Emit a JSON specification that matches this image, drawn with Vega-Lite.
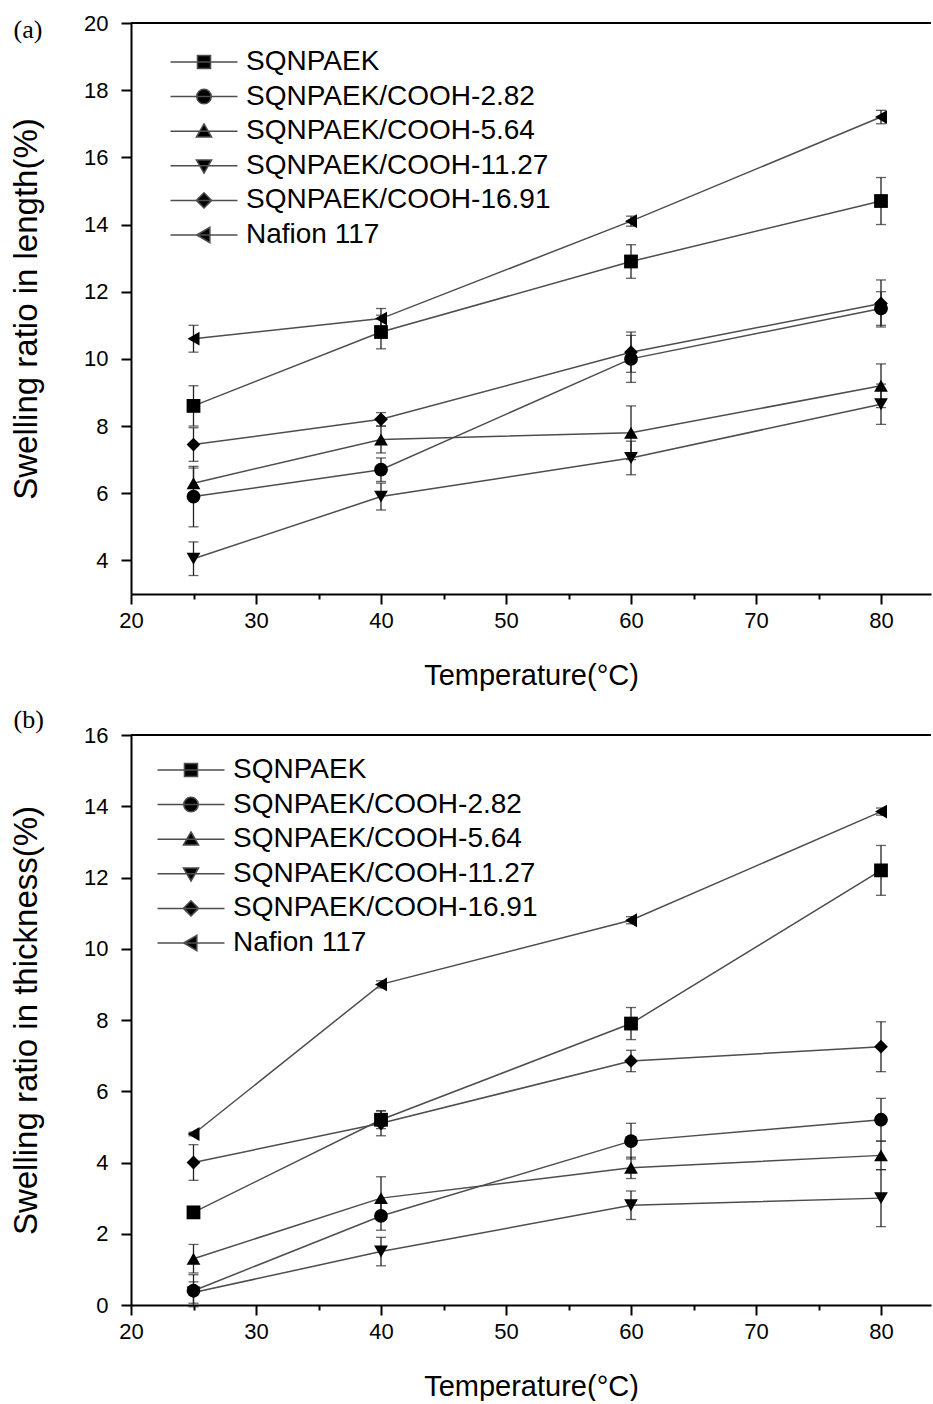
{
  "$schema": "https://vega.github.io/schema/vega-lite/v6.json",
  "padding": {"left": 10, "top": 12, "right": 0, "bottom": 0},
  "background": "white",
  "config": {
    "view": {"stroke": null},
    "concat": {"spacing": 17},
    "axis": {
      "domainColor": "black", "domainWidth": 2, "tickColor": "black", "tickWidth": 2,
      "labelFont": "Liberation Sans", "labelFontSize": 22, "labelColor": "black",
      "titleFont": "Liberation Sans", "titleFontWeight": "normal", "titleColor": "black",
      "grid": false, "labelOverlap": false, "labelFlush": false
    },
    "legend": {"labelFont": "Liberation Sans", "labelFontSize": 28, "labelColor": "black", "labelLimit": 0, "padding": 0, "symbolSize": 190, "symbolStrokeWidth": 1.5, "rowPadding": 6.6}
  },
  "resolve": {"scale": {"shape": "independent"}, "legend": {"shape": "independent"}},
  "datasets": {
    "a": [
      {"series": "SQNPAEK", "t": 25, "v": 8.6, "err": 0.6},
      {"series": "SQNPAEK", "t": 40, "v": 10.8, "err": 0.5},
      {"series": "SQNPAEK", "t": 60, "v": 12.9, "err": 0.5},
      {"series": "SQNPAEK", "t": 80, "v": 14.7, "err": 0.7},
      {"series": "SQNPAEK/COOH-2.82", "t": 25, "v": 5.9, "err": 0.9},
      {"series": "SQNPAEK/COOH-2.82", "t": 40, "v": 6.7, "err": 0.35},
      {"series": "SQNPAEK/COOH-2.82", "t": 60, "v": 10.0, "err": 0.7},
      {"series": "SQNPAEK/COOH-2.82", "t": 80, "v": 11.5, "err": 0.5},
      {"series": "SQNPAEK/COOH-5.64", "t": 25, "v": 6.3, "err": 0.45},
      {"series": "SQNPAEK/COOH-5.64", "t": 40, "v": 7.6, "err": 0.4},
      {"series": "SQNPAEK/COOH-5.64", "t": 60, "v": 7.8, "err": 0.8},
      {"series": "SQNPAEK/COOH-5.64", "t": 80, "v": 9.2, "err": 0.65},
      {"series": "SQNPAEK/COOH-11.27", "t": 25, "v": 4.05, "err": 0.5},
      {"series": "SQNPAEK/COOH-11.27", "t": 40, "v": 5.9, "err": 0.4},
      {"series": "SQNPAEK/COOH-11.27", "t": 60, "v": 7.05, "err": 0.5},
      {"series": "SQNPAEK/COOH-11.27", "t": 80, "v": 8.65, "err": 0.6},
      {"series": "SQNPAEK/COOH-16.91", "t": 25, "v": 7.45, "err": 0.5},
      {"series": "SQNPAEK/COOH-16.91", "t": 40, "v": 8.2, "err": 0.2},
      {"series": "SQNPAEK/COOH-16.91", "t": 60, "v": 10.2, "err": 0.6},
      {"series": "SQNPAEK/COOH-16.91", "t": 80, "v": 11.65, "err": 0.7},
      {"series": "Nafion 117", "t": 25, "v": 10.6, "err": 0.4},
      {"series": "Nafion 117", "t": 40, "v": 11.2, "err": 0.3},
      {"series": "Nafion 117", "t": 60, "v": 14.1, "err": 0.15},
      {"series": "Nafion 117", "t": 80, "v": 17.2, "err": 0.2}
    ],
    "b": [
      {"series": "SQNPAEK", "t": 25, "v": 2.6, "err": 0.1},
      {"series": "SQNPAEK", "t": 40, "v": 5.2, "err": 0.25},
      {"series": "SQNPAEK", "t": 60, "v": 7.9, "err": 0.45},
      {"series": "SQNPAEK", "t": 80, "v": 12.2, "err": 0.7},
      {"series": "SQNPAEK/COOH-2.82", "t": 25, "v": 0.4, "err": 0.45},
      {"series": "SQNPAEK/COOH-2.82", "t": 40, "v": 2.5, "err": 0.4},
      {"series": "SQNPAEK/COOH-2.82", "t": 60, "v": 4.6, "err": 0.5},
      {"series": "SQNPAEK/COOH-2.82", "t": 80, "v": 5.2, "err": 0.6},
      {"series": "SQNPAEK/COOH-5.64", "t": 25, "v": 1.3, "err": 0.4},
      {"series": "SQNPAEK/COOH-5.64", "t": 40, "v": 3.0, "err": 0.6},
      {"series": "SQNPAEK/COOH-5.64", "t": 60, "v": 3.85, "err": 0.3},
      {"series": "SQNPAEK/COOH-5.64", "t": 80, "v": 4.2, "err": 0.4},
      {"series": "SQNPAEK/COOH-11.27", "t": 25, "v": 0.35, "err": 0.3},
      {"series": "SQNPAEK/COOH-11.27", "t": 40, "v": 1.5, "err": 0.4},
      {"series": "SQNPAEK/COOH-11.27", "t": 60, "v": 2.8, "err": 0.4},
      {"series": "SQNPAEK/COOH-11.27", "t": 80, "v": 3.0, "err": 0.8},
      {"series": "SQNPAEK/COOH-16.91", "t": 25, "v": 4.0, "err": 0.5},
      {"series": "SQNPAEK/COOH-16.91", "t": 40, "v": 5.1, "err": 0.35},
      {"series": "SQNPAEK/COOH-16.91", "t": 60, "v": 6.85, "err": 0.3},
      {"series": "SQNPAEK/COOH-16.91", "t": 80, "v": 7.25, "err": 0.7},
      {"series": "Nafion 117", "t": 25, "v": 4.8, "err": 0.05},
      {"series": "Nafion 117", "t": 40, "v": 9.0, "err": 0.1},
      {"series": "Nafion 117", "t": 60, "v": 10.8, "err": 0.1},
      {"series": "Nafion 117", "t": 80, "v": 13.85, "err": 0.1}
    ]
  },
  "vconcat": [
    {
      "data": {"name": "a"},
      "width": 800,
      "height": 571,
      "title": {"text": "(a)", "anchor": "start", "frame": "bounds", "font": "Liberation Serif", "fontSize": 26, "fontWeight": "normal", "color": "black", "baseline": "alphabetic", "offset": 0, "dx": 3, "dy": 52},
      "resolve": {"scale": {"shape": "independent"}, "legend": {"shape": "independent"}},
      "layer": [
        {"mark": {"type": "rule", "color": "black", "strokeWidth": 2}, "encoding": {"y": {"datum": 20, "type": "quantitative", "title": "Swelling ratio in length(%)"}}},
        {"mark": {"type": "errorbar", "ticks": true, "size": 10, "thickness": 1.3, "color": "#222"},
         "encoding": {"x": {"field": "t", "type": "quantitative", "title": "Temperature(°C)"}, "y": {"field": "v", "type": "quantitative", "title": "Swelling ratio in length(%)"}, "yError": {"field": "err"}}},
        {"mark": {"type": "line", "color": "#4d4d4d", "strokeWidth": 1.5},
         "encoding": {
           "x": {"field": "t", "type": "quantitative", "title": "Temperature(°C)", "scale": {"domain": [20, 84], "nice": false, "zero": false},
                 "axis": {"titleFontSize": 29, "titlePadding": 30, "labelPadding": 6,
                          "values": [20, 25, 30, 35, 40, 45, 50, 55, 60, 65, 70, 75, 80],
                          "tickSize": {"condition": {"test": "datum.value % 10 === 0", "value": 10}, "value": 5},
                          "labelExpr": "datum.value % 10 === 0 ? datum.label : ''"}},
           "y": {"field": "v", "type": "quantitative", "title": "Swelling ratio in length(%)", "scale": {"domain": [3, 20], "nice": false, "zero": false},
                 "axis": {"titleFontSize": 33, "titlePadding": 40, "labelPadding": 13,
                          "values": [4, 5, 6, 7, 8, 9, 10, 11, 12, 13, 14, 15, 16, 17, 18, 19, 20],
                          "tickSize": {"condition": {"test": "datum.value % 2 === 0", "value": 10}, "value": 5},
                          "labelExpr": "datum.value % 2 === 0 ? datum.label : ''"}},
           "detail": {"field": "series"}
         }},
        {"mark": {"type": "point", "filled": true, "color": "black", "size": 190, "opacity": 1},
         "encoding": {
           "x": {"field": "t", "type": "quantitative", "title": "Temperature(°C)"},
           "y": {"field": "v", "type": "quantitative", "title": "Swelling ratio in length(%)"},
           "shape": {"field": "series", "type": "nominal",
                     "scale": {"domain": ["SQNPAEK", "SQNPAEK/COOH-2.82", "SQNPAEK/COOH-5.64", "SQNPAEK/COOH-11.27", "SQNPAEK/COOH-16.91", "Nafion 117"],
                               "range": ["square", "circle", "triangle-up", "triangle-down", "diamond", "triangle-left"]},
                     "legend": null}
         }},
        {"mark": {"type": "point", "filled": false, "color": "#4d4d4d", "fill": "black", "strokeWidth": 1.5, "size": 0, "opacity": 1},
         "encoding": {
           "x": {"field": "t", "type": "quantitative", "title": "Temperature(°C)"},
           "y": {"field": "v", "type": "quantitative", "title": "Swelling ratio in length(%)"},
           "shape": {"field": "series", "type": "nominal",
                     "scale": {"domain": ["SQNPAEK", "SQNPAEK/COOH-2.82", "SQNPAEK/COOH-5.64", "SQNPAEK/COOH-11.27", "SQNPAEK/COOH-16.91", "Nafion 117"],
                               "range": ["M-4.86,0H4.86M-0.95,-0.95H0.95V0.95H-0.95Z", "M-4.86,0H4.86M1.05,0A1.05,1.05,0,1,1,-1.05,0A1.05,1.05,0,1,1,1.05,0Z", "M-4.86,0H4.86M0,-1.05L1.1,0.85L-1.1,0.85Z", "M-4.86,0H4.86M0,1.05L1.1,-0.85L-1.1,-0.85Z", "M-4.86,0H4.86M-1.1,0L0,-1.1L1.1,0L0,1.1Z", "M-4.86,0H4.86M-1.05,0L0.85,-1.1L0.85,1.1Z"]},
                     "legend": {"title": null, "orient": "top-left", "offset": 25, "symbolSize": 190, "symbolOffset": 34, "labelOffset": 28, "symbolStrokeWidth": 1.5}}
         }}
      ]
    },
    {
      "data": {"name": "b"},
      "width": 800,
      "height": 570,
      "title": {"text": "(b)", "anchor": "start", "frame": "bounds", "font": "Liberation Serif", "fontSize": 26, "fontWeight": "normal", "color": "black", "baseline": "alphabetic", "offset": 0, "dx": 3, "dy": 30},
      "resolve": {"scale": {"shape": "independent"}, "legend": {"shape": "independent"}},
      "layer": [
        {"mark": {"type": "rule", "color": "black", "strokeWidth": 2}, "encoding": {"y": {"datum": 16, "type": "quantitative", "title": "Swelling ratio in thickness(%)"}}},
        {"mark": {"type": "errorbar", "ticks": true, "size": 10, "thickness": 1.3, "color": "#222"},
         "encoding": {"x": {"field": "t", "type": "quantitative", "title": "Temperature(°C)"}, "y": {"field": "v", "type": "quantitative", "title": "Swelling ratio in thickness(%)"}, "yError": {"field": "err"}}},
        {"mark": {"type": "line", "color": "#4d4d4d", "strokeWidth": 1.5},
         "encoding": {
           "x": {"field": "t", "type": "quantitative", "title": "Temperature(°C)", "scale": {"domain": [20, 84], "nice": false, "zero": false},
                 "axis": {"titleFontSize": 29, "titlePadding": 30, "labelPadding": 6,
                          "values": [20, 25, 30, 35, 40, 45, 50, 55, 60, 65, 70, 75, 80],
                          "tickSize": {"condition": {"test": "datum.value % 10 === 0", "value": 10}, "value": 5},
                          "labelExpr": "datum.value % 10 === 0 ? datum.label : ''"}},
           "y": {"field": "v", "type": "quantitative", "title": "Swelling ratio in thickness(%)", "scale": {"domain": [0, 16], "nice": false, "zero": false},
                 "axis": {"titleFontSize": 33, "titlePadding": 40, "labelPadding": 13,
                          "values": [0, 1, 2, 3, 4, 5, 6, 7, 8, 9, 10, 11, 12, 13, 14, 15, 16],
                          "tickSize": {"condition": {"test": "datum.value % 2 === 0", "value": 10}, "value": 5},
                          "labelExpr": "datum.value % 2 === 0 ? datum.label : ''"}},
           "detail": {"field": "series"}
         }},
        {"mark": {"type": "point", "filled": true, "color": "black", "size": 190, "opacity": 1},
         "encoding": {
           "x": {"field": "t", "type": "quantitative", "title": "Temperature(°C)"},
           "y": {"field": "v", "type": "quantitative", "title": "Swelling ratio in thickness(%)"},
           "shape": {"field": "series", "type": "nominal",
                     "scale": {"domain": ["SQNPAEK", "SQNPAEK/COOH-2.82", "SQNPAEK/COOH-5.64", "SQNPAEK/COOH-11.27", "SQNPAEK/COOH-16.91", "Nafion 117"],
                               "range": ["square", "circle", "triangle-up", "triangle-down", "diamond", "triangle-left"]},
                     "legend": null}
         }},
        {"mark": {"type": "point", "filled": false, "color": "#4d4d4d", "fill": "black", "strokeWidth": 1.5, "size": 0, "opacity": 1},
         "encoding": {
           "x": {"field": "t", "type": "quantitative", "title": "Temperature(°C)"},
           "y": {"field": "v", "type": "quantitative", "title": "Swelling ratio in thickness(%)"},
           "shape": {"field": "series", "type": "nominal",
                     "scale": {"domain": ["SQNPAEK", "SQNPAEK/COOH-2.82", "SQNPAEK/COOH-5.64", "SQNPAEK/COOH-11.27", "SQNPAEK/COOH-16.91", "Nafion 117"],
                               "range": ["M-4.86,0H4.86M-0.95,-0.95H0.95V0.95H-0.95Z", "M-4.86,0H4.86M1.05,0A1.05,1.05,0,1,1,-1.05,0A1.05,1.05,0,1,1,1.05,0Z", "M-4.86,0H4.86M0,-1.05L1.1,0.85L-1.1,0.85Z", "M-4.86,0H4.86M0,1.05L1.1,-0.85L-1.1,-0.85Z", "M-4.86,0H4.86M-1.1,0L0,-1.1L1.1,0L0,1.1Z", "M-4.86,0H4.86M-1.05,0L0.85,-1.1L0.85,1.1Z"]},
                     "legend": {"title": null, "orient": "top-left", "offset": 21, "symbolSize": 190, "symbolOffset": 25, "labelOffset": 28, "symbolStrokeWidth": 1.5}}
         }}
      ]
    }
  ]
}
